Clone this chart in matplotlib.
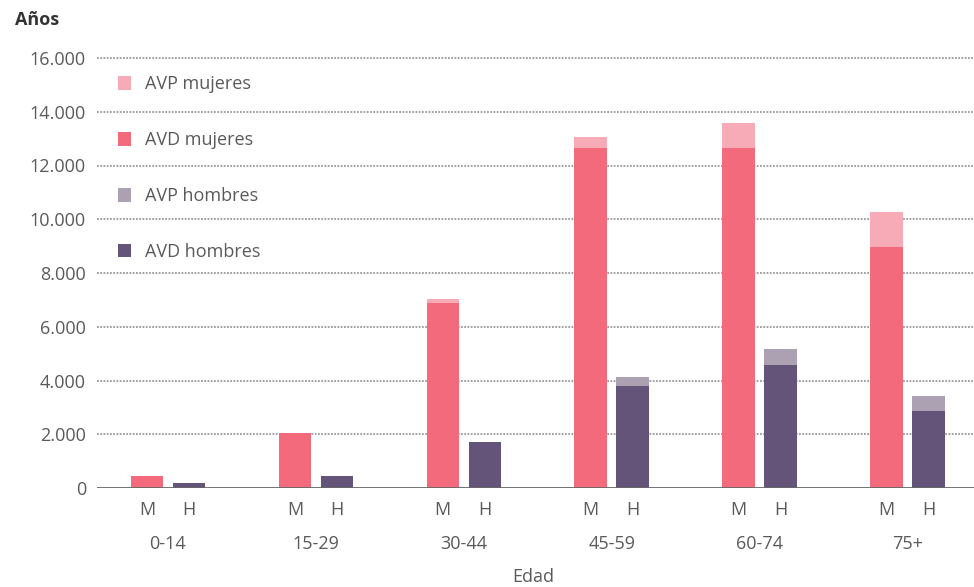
import matplotlib
matplotlib.use("Agg")
import matplotlib.pyplot as plt
import numpy as np
from matplotlib.ticker import FuncFormatter

plt.rcParams['font.family'] = ['Open Sans', 'DejaVu Sans']

grupos = ["0-14", "15-29", "30-44", "45-59", "60-74", "75+"]
avd_mujeres = [450, 2040, 6880, 12640, 12640, 8960]
avp_mujeres = [0, 0, 150, 410, 960, 1300]
avd_hombres = [180, 450, 1710, 3790, 4570, 2860]
avp_hombres = [0, 0, 0, 340, 600, 560]
yticks = [0, 2000, 4000, 6000, 8000, 10000, 12000, 14000, 16000]

c_avd_m = "#F26A7C"
c_avp_m = "#F6ABB6"
c_avd_h = "#65547A"
c_avp_h = "#ABA1B3"
txt = "#5a5a5a"

W, H = 974, 587
fig = plt.figure(figsize=(W/100, H/100), dpi=100)
ymax = 16200
ppu = 430/16000
top_px = 488 - ymax*ppu
ax = fig.add_axes([97/W, 1-488/H, 1-97/W, (488-top_px)/H])

x = np.arange(len(grupos))
off = 0.142
bw = 0.22
xm = x - off
xh = x + off
ax.bar(xm, avd_mujeres, bw, color=c_avd_m, label="AVD mujeres", zorder=3)
ax.bar(xm, avp_mujeres, bw, bottom=avd_mujeres, color=c_avp_m, label="AVP mujeres", zorder=3)
ax.bar(xh, avd_hombres, bw, color=c_avd_h, label="AVD hombres", zorder=3)
ax.bar(xh, avp_hombres, bw, bottom=avd_hombres, color=c_avp_h, label="AVP hombres", zorder=3)

ax.set_xlim(-0.48, 5.45)
ax.set_ylim(0, ymax)
ax.set_yticks(yticks)
ax.yaxis.set_major_formatter(FuncFormatter(lambda v, p: f"{int(v):,}".replace(",", ".")))
ax.tick_params(axis='y', length=0, pad=8, labelsize=13, labelcolor=txt)
ax.set_xticks([])
for s in ax.spines.values():
    s.set_visible(False)
for t in yticks[1:]:
    ax.axhline(t, color="#9a9a9a", lw=1.3, ls=(0, (1, 0.8)), zorder=1)
ax.axhline(0, color="#666666", lw=2, zorder=4)

tr = ax.get_xaxis_transform()
for i in range(len(grupos)):
    ax.text(xm[i], -0.05, "M", transform=tr, ha="center", va="center", fontsize=13, color=txt)
    ax.text(xh[i], -0.05, "H", transform=tr, ha="center", va="center", fontsize=13, color=txt)
    ax.text(x[i], -0.128, grupos[i], transform=tr, ha="center", va="center", fontsize=13, color=txt)

fig.text(533/W, 1-577/H, "Edad", ha="center", va="center", fontsize=13, color=txt)
fig.text(15/W, 1-20/H, "Años", ha="left", va="center", fontsize=13, color="#333333", fontweight="bold")

handles, labels = ax.get_legend_handles_labels()
order = [1, 0, 3, 2]
leg = ax.legend([handles[i] for i in order], [labels[i] for i in order],
                loc="upper left", bbox_to_anchor=(0.005, 0.985), frameon=False,
                fontsize=13, labelspacing=2.1, handlelength=0.75, handleheight=0.75,
                handletextpad=0.75, labelcolor=txt)

fig.savefig("out.png", dpi=100, facecolor="white")
